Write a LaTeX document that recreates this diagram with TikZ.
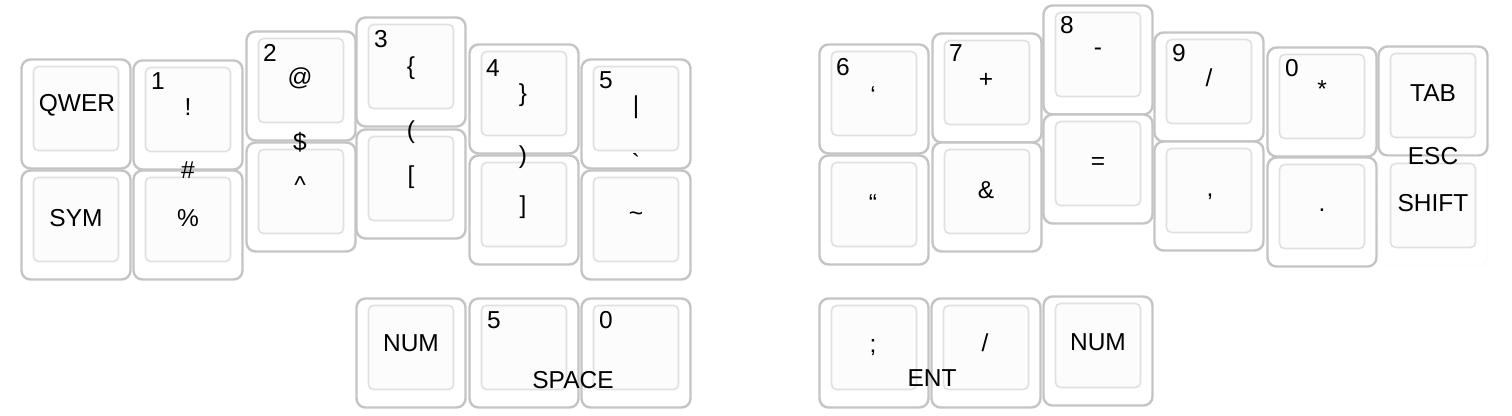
\documentclass[tikz,border=0pt]{standalone}
\usepackage{fontspec}
\setmainfont{Liberation Sans}
\definecolor{keyedge}{HTML}{C4C4C4}
\definecolor{capedge}{HTML}{E0E0E0}
\definecolor{capfill}{HTML}{FCFCFC}
\tikzset{
  keyout/.style={draw=keyedge, line width=2.4pt, fill=white, rounded corners=9pt, inner sep=0pt, outer sep=0pt},
  keybare/.style={draw=red!12, line width=0.5pt, dotted, fill=white, rounded corners=9pt, inner sep=0pt, outer sep=0pt},
  keyin/.style={draw=capedge, line width=1.6pt, fill=capfill, rounded corners=5pt, inner sep=0pt, outer sep=0pt},
  lg/.style={font=\fontsize{24.5}{24.5}\selectfont, inner sep=0pt, text=black}
}
\newcommand\kbkey[4]{%
  \node[#2, anchor=north west, minimum width=109pt, minimum height=109pt] (#1) at (#3+0.5,#4+0.5) {};
  \node[keyin, anchor=north west, minimum width=85pt, minimum height=84pt] (#1i) at (#3+12.5,#4+7.5) {};
}
\begin{document}
\begin{tikzpicture}[x=1pt,y=-1pt]
\useasboundingbox (0,0) rectangle (1512,415);
% left half
\kbkey{a0}{keyout}{21}{59}
\kbkey{a1}{keyout}{21}{170}
\kbkey{b0}{keyout}{133}{60}
\kbkey{b1}{keyout}{133}{170}
\kbkey{c0}{keyout}{246}{31}
\kbkey{c1}{keyout}{246}{142}
\kbkey{d0}{keyout}{356}{17}
\kbkey{d1}{keyout}{356}{129}
\kbkey{e0}{keyout}{469}{44}
\kbkey{e1}{keyout}{469}{155}
\kbkey{f0}{keyout}{581}{59}
\kbkey{f1}{keyout}{581}{170}
\kbkey{t1}{keyout}{356}{298}
\kbkey{t2}{keyout}{469}{298}
\kbkey{t3}{keyout}{581}{298}
% right half
\kbkey{g0}{keyout}{819}{44}
\kbkey{g1}{keyout}{819}{155}
\kbkey{h0}{keyout}{932}{33}
\kbkey{h1}{keyout}{932}{142}
\kbkey{i0}{keyout}{1043}{5}
\kbkey{i1}{keyout}{1043}{114}
\kbkey{j0}{keyout}{1154}{32}
\kbkey{j1}{keyout}{1154}{141}
\kbkey{k0}{keyout}{1267}{47}
\kbkey{k1}{keyout}{1267}{157}
\kbkey{l0}{keyout}{1378}{46}
\kbkey{l1}{keybare}{1378}{156}
\kbkey{u1}{keyout}{819}{298}
\kbkey{u2}{keyout}{931}{298}
\kbkey{u3}{keyout}{1043}{296}
% legends left
\node[lg] (qwer) at (77,105) {QWER};
\node[lg] (sym) at (76,218) {SYM};
\node[lg] (n1) at (158,81.5) {1};
\node[lg] (excl) at (188,107) {!};
\node[lg] (hash) at (188,170) {\#};
\node[lg] (pct) at (188,218) {\%};
\node[lg] (n2) at (270,52.5) {2};
\node[lg] (at) at (300,78) {@};
\node[lg] (dol) at (300,142) {\$};
\node[lg] (car) at (300,185) {\textasciicircum};
\node[lg] (n3) at (381,39.5) {3};
\node[lg] (lbr) at (411,68) {\{};
\node[lg] (lpa) at (411,132) {(};
\node[lg] (lsq) at (411,177) {[};
\node[lg] (n4) at (493,68) {4};
\node[lg] (rbr) at (523,95) {\}};
\node[lg] (rpa) at (523,157) {)};
\node[lg] (rsq) at (523,207) {]};
\node[lg] (n5) at (606,80) {5};
\node[lg] (bar) at (636,107) {\textbar};
\node[lg] (grv) at (636,162) {\textasciigrave};
\node[lg] (tld) at (636,217) {\textasciitilde};
\node[lg] (num1) at (411,343) {NUM};
\node[lg] (t5) at (494,320) {5};
\node[lg] (t0) at (606,320) {0};
\node[lg] (space) at (573,380) {SPACE};
% legends right
\node[lg] (n6) at (843,67) {6};
\node[lg] (lsq1) at (873,95) {‘};
\node[lg] (ldq) at (873,203) {“};
\node[lg] (n7) at (956,53) {7};
\node[lg] (plus) at (986,80) {+};
\node[lg] (amp) at (986,190) {\&};
\node[lg] (n8) at (1067,25) {8};
\node[lg] (minus) at (1098,52) {-};
\node[lg] (eq) at (1098,163) {=};
\node[lg] (n9) at (1179,53) {9};
\node[lg] (slash) at (1209,78) {/};
\node[lg] (comma) at (1210,197) {,};
\node[lg] (n0) at (1292,68) {0};
\node[lg] (ast) at (1322,89) {*};
\node[lg] (dot) at (1322,210) {.};
\node[lg] (tab) at (1433,93) {TAB};
\node[lg] (esc) at (1433,156) {ESC};
\node[lg] (shift) at (1433,203) {SHIFT};
\node[lg] (semi) at (873,348) {;};
\node[lg] (slash2) at (985,343) {/};
\node[lg] (num2) at (1098,342) {NUM};
\node[lg] (ent) at (932,378) {ENT};
\end{tikzpicture}
\end{document}
